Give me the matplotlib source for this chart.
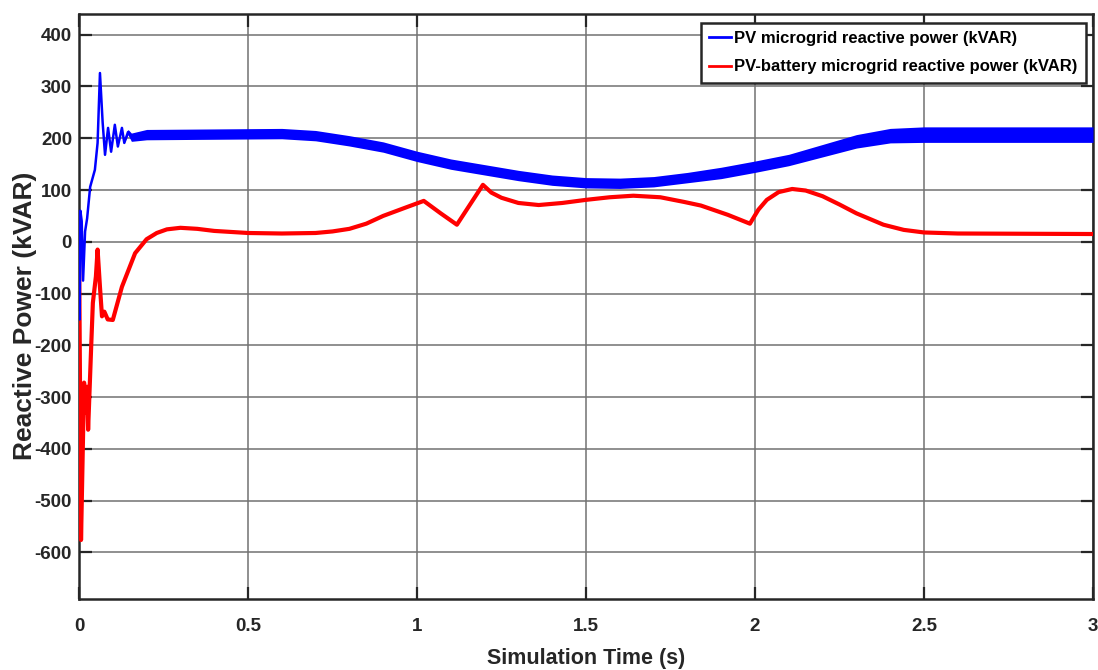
import numpy as np
import matplotlib
matplotlib.use('Agg')
import matplotlib.pyplot as plt

plt.rcParams['font.family'] = ['Liberation Sans', 'DejaVu Sans']
plt.rcParams['axes.unicode_minus'] = False

# PV microgrid (blue): time, mean value and ripple half-width
t_pv = [0.0, 0.002, 0.004, 0.008, 0.012, 0.018, 0.024, 0.033, 0.047, 0.055,
        0.062, 0.070, 0.077, 0.086, 0.095, 0.106, 0.115, 0.127, 0.134, 0.145,
        0.155, 0.2, 0.4, 0.6, 0.7, 0.8, 0.9, 1.0, 1.1, 1.2,
        1.3, 1.4, 1.5, 1.6, 1.7, 1.8, 1.9, 2.0, 2.1, 2.2,
        2.3, 2.4, 2.5, 2.7, 3.0]
q_pv = [0, -150, 60, 40, -75, 20, 45, 106, 139, 191,
        326, 230, 168, 220, 174, 226, 184, 220, 191, 212,
        202, 207, 208, 209, 205, 195, 183, 165, 150, 139,
        128, 119, 114, 113, 116, 124, 133, 145, 158, 176,
        194, 205, 207, 207, 207]
ripple_pv = [0, 0, 0, 0, 0, 0, 0, 0, 0, 0,
             0, 0, 0, 0, 0, 0, 0, 0, 0, 5,
             8, 10, 10, 10, 10, 10, 10, 10, 10, 10,
             10, 10, 10, 10, 10, 10, 11, 11, 11, 12,
             13, 14, 15, 15, 15]

# PV-battery microgrid (red)
t_pvb = [0.0, 0.006, 0.015, 0.02, 0.024, 0.027, 0.036, 0.041, 0.05, 0.055,
         0.062, 0.068, 0.075, 0.085, 0.1, 0.127, 0.166, 0.2, 0.23, 0.26,
         0.3, 0.35, 0.4, 0.5, 0.6, 0.7, 0.75, 0.8, 0.85, 0.9,
         0.97, 1.02, 1.07, 1.118, 1.195, 1.22, 1.25, 1.3, 1.36, 1.43,
         1.5, 1.57, 1.64, 1.72, 1.79, 1.84, 1.92, 1.985, 2.01, 2.035,
         2.07, 2.11, 2.15, 2.2, 2.25, 2.3, 2.38, 2.44, 2.5, 2.6,
         3.0]
q_pvb = [15, -576, -272, -330, -280, -363, -203, -118, -67, -15,
         -87, -144, -135, -150, -151, -87, -22, 5, 17, 24,
         27, 25, 21, 17, 16, 17, 20, 25, 35, 50,
         67, 79, 55, 33, 110, 95, 85, 75, 71, 75,
         81, 86, 89, 86, 77, 70, 52, 35, 62, 81,
         96, 102, 99, 88, 72, 55, 33, 23, 18, 16,
         15]

labels = ['PV microgrid reactive power (kVAR)',
          'PV-battery microgrid reactive power (kVAR)']

t_pv = np.array(t_pv)
q_pv = np.array(q_pv)
ripple_pv = np.array(ripple_pv)

fig = plt.figure(figsize=(10.98, 6.70), dpi=100)
ax = fig.add_axes([79 / 1098, 1 - 599 / 670, 1014 / 1098, 585 / 670])

ax.fill_between(t_pv, q_pv - ripple_pv, q_pv + ripple_pv, color='#0000ff', lw=0, zorder=3)
ax.plot(t_pv, q_pv, color='#0000ff', lw=1.8, label=labels[0], zorder=4)
ax.plot(t_pvb, q_pvb, color='#ff0000', lw=3, label=labels[1], zorder=3)

ax.set_xlim(0, 3)
ax.set_ylim(-690, 440)
ax.set_xticks([0, 0.5, 1, 1.5, 2, 2.5, 3])
ax.set_xticklabels(['0', '0.5', '1', '1.5', '2', '2.5', '3'])
ax.set_yticks(np.arange(-600, 401, 100))

ax.grid(True, color='0.45', lw=1.4, alpha=0.8)
ax.tick_params(direction='in', length=9, width=1.6, top=True, right=True,
               labelsize=13.5, pad=5, colors='#262626')
ax.tick_params(axis='x', pad=14)
for lab in ax.get_xticklabels() + ax.get_yticklabels():
    lab.set_fontweight('bold')
for s in ax.spines.values():
    s.set_linewidth(1.8)
    s.set_color('#262626')

ax.set_xlabel('Simulation Time (s)', fontweight='bold', fontsize=15.5,
              color='#262626', labelpad=9)
ax.set_ylabel('Reactive Power (kVAR)', fontweight='bold', fontsize=19,
              color='#262626')
ax.yaxis.set_label_coords(-0.0414, 0.484)

leg = ax.legend(loc='upper right', bbox_to_anchor=(0.993, 0.985), borderaxespad=0,
                fancybox=False, framealpha=1, edgecolor='#262626',
                handlelength=1.3, handletextpad=0.2, borderpad=0.5, labelspacing=0.8,
                prop={'weight': 'bold', 'size': 12})
leg.get_frame().set_linewidth(1.8)
for h in leg.get_lines():
    h.set_linewidth(2)

fig.savefig('out.png', dpi=100)
